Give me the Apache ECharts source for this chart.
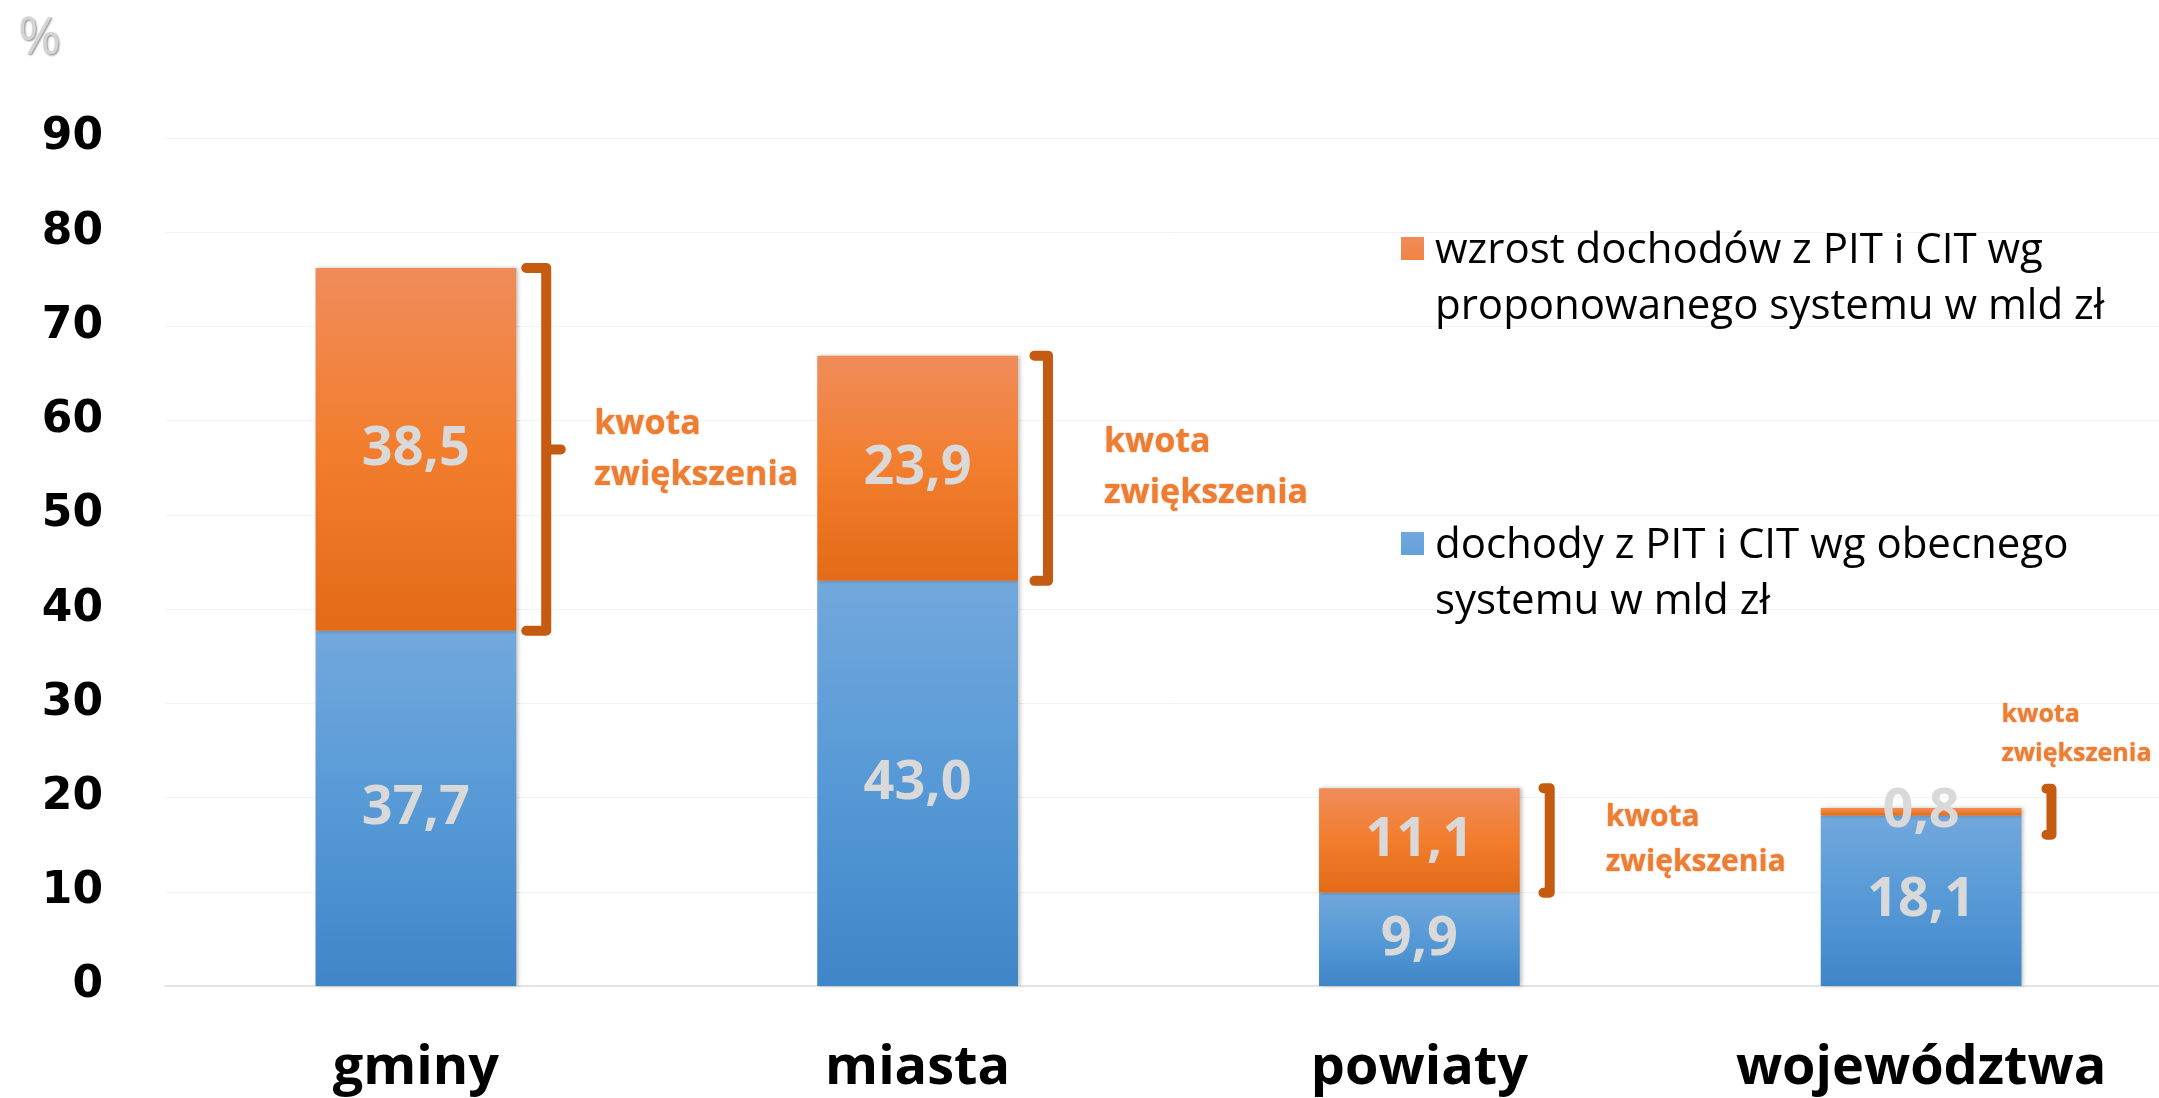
<!DOCTYPE html>
<html>
<head>
<meta charset="utf-8">
<script src="https://cdn.jsdelivr.net/npm/echarts@6/dist/echarts.min.js"></script>
<style>
  html, body { margin: 0; padding: 0; background: #fff; overflow: hidden; }
  #chart { width: 2200px; height: 1098px; }
</style>
</head>
<body>
<div id="chart"></div>
<script>
// dane
var categories = ['gminy', 'miasta', 'powiaty', 'województwa'];
var obecne = [37.7, 43.0, 9.9, 18.1];      // dochody z PIT i CIT wg obecnego systemu
var wzrost = [38.5, 23.9, 11.1, 0.8];      // wzrost dochodów wg proponowanego systemu
var yTicks = [0, 10, 20, 30, 40, 50, 60, 70, 80, 90];

var nameObecne = 'dochody z PIT i CIT wg obecnego\nsystemu w mld zł';
var nameWzrost = 'wzrost dochodów z PIT i CIT wg\nproponowanego systemu w mld zł';
var bracketText = 'kwota\nzwiększenia';

var chart = echarts.init(document.getElementById('chart'));

function fmt(p) {
    return p.value.toFixed(1).replace('.', ',');
}

var blueGrad = new echarts.graphic.LinearGradient(0, 0, 0, 1, [
    { offset: 0, color: '#72A8DC' },
    { offset: 0.5, color: '#5699D6' },
    { offset: 1, color: '#3F86C8' }
]);
var orangeGrad = new echarts.graphic.LinearGradient(0, 0, 0, 1, [
    { offset: 0, color: '#F08C5A' },
    { offset: 0.5, color: '#F27D2D' },
    { offset: 1, color: '#E36B17' }
]);

var valueLabel = {
    show: true,
    position: 'inside',
    formatter: fmt,
    color: '#D9D9D9',
    fontSize: 54,
    fontWeight: 'bold',
    fontFamily: 'Open Sans'
};

// klamry "kwota zwiększenia" obok słupków
function renderBracket(params, api) {
    var idx = api.value(0), base = api.value(1), inc = api.value(2);
    var xc = api.coord([idx, 0])[0];
    var bw = api.size([1, 0])[0] * 0.4;
    var right = xc + bw / 2;
    var bx = right + 30;
    var yTop = api.coord([idx, base + inc])[1];
    var yBot = api.coord([idx, base])[1];
    var mid = (yTop + yBot) / 2;
    var half = Math.max((yBot - yTop) / 2, 23);
    var t = mid - half, b = mid + half;
    var hook = Math.min(20, Math.max(5, half * 0.12));
    var tip = half > 150 ? half * 0.08 : 0;

    var txt;
    if (half < 40) {
        // mały przyrost - podpis nad klamrą
        txt = {
            type: 'text',
            style: {
                text: bracketText, x: bx - 50, y: t - 15,
                fill: '#EE7D31', font: 'bold 25px "Open Sans"', lineHeight: 39,
                verticalAlign: 'bottom', align: 'left',
                textShadowColor: 'rgba(190,80,10,0.5)', textShadowBlur: 2
            }
        };
    } else {
        var fs = half > 100 ? 34 : 30;
        txt = {
            type: 'text',
            style: {
                text: bracketText, x: right + (half > 150 ? 78 : 86), y: mid,
                fill: '#EE7D31', font: 'bold ' + fs + 'px "Open Sans"', lineHeight: fs * 1.5,
                verticalAlign: 'middle', align: 'left',
                textShadowColor: 'rgba(190,80,10,0.5)', textShadowBlur: 2
            }
        };
    }
    return {
        type: 'group',
        children: [{
            type: 'polyline',
            shape: { points: [[bx - hook, t], [bx, t], [bx, mid], [bx + tip, mid], [bx, mid], [bx, b], [bx - hook, b]] },
            style: { stroke: '#C55A11', lineWidth: 10, fill: null, lineJoin: 'round', lineCap: 'round' }
        }, txt]
    };
}

var bracketData = categories.map(function (c, i) { return [i, obecne[i], wzrost[i]]; });

var option = {
    backgroundColor: '#fff',
    animation: false,
    title: {
        text: '%',
        left: 13,
        top: 8,
        textStyle: {
            fontSize: 52, fontWeight: 'normal', fontFamily: 'Open Sans',
            color: '#D4D4D4', textShadowColor: 'rgba(0,0,0,0.45)', textShadowBlur: 2, textShadowOffsetX: 1, textShadowOffsetY: 1
        }
    },
    legend: {
        orient: 'vertical',
        left: 1396,
        top: 218,
        data: [nameWzrost, nameObecne],
        icon: 'path://M0,0h23v23h-23z M29,84h0.01v0.01h-0.01z',
        itemWidth: 29,
        itemHeight: 84,
        itemGap: 183,
        selectedMode: false,
        textStyle: { fontSize: 42, lineHeight: 56, color: '#000', fontFamily: 'Open Sans' }
    },
    grid: { left: 165, right: 28, top: 138, bottom: 112 },
    xAxis: {
        type: 'category',
        data: categories,
        axisTick: { show: false },
        axisLine: { lineStyle: { color: '#E3E3E3', width: 2 } },
        axisLabel: { fontSize: 54, fontWeight: 'bold', fontFamily: 'Open Sans', color: '#000', margin: 56 }
    },
    yAxis: {
        type: 'value',
        min: yTicks[0],
        max: yTicks[yTicks.length - 1],
        interval: 10,
        axisLine: { show: false },
        axisTick: { show: false },
        axisLabel: { fontSize: 44, fontWeight: 'bold', fontFamily: 'DejaVu Sans', color: '#000', margin: 62 },
        splitLine: { lineStyle: { color: '#F2F2F2', width: 1 } }
    },
    series: [{
        name: nameObecne,
        type: 'bar',
        stack: 'a',
        barWidth: '40%',
        data: obecne,
        itemStyle: { color: blueGrad, shadowColor: 'rgba(0,0,0,0.25)', shadowBlur: 4, shadowOffsetX: 2 },
        label: valueLabel
    }, {
        name: nameWzrost,
        type: 'bar',
        stack: 'a',
        barWidth: '40%',
        data: wzrost,
        itemStyle: { color: orangeGrad, shadowColor: 'rgba(0,0,0,0.25)', shadowBlur: 4, shadowOffsetX: 2 },
        label: valueLabel
    }, {
        type: 'custom',
        silent: true,
        clip: false,
        z: 5,
        renderItem: renderBracket,
        encode: { x: 0, y: 1 },
        data: bracketData
    }]
};

chart.setOption(option);
</script>
</body>
</html>
